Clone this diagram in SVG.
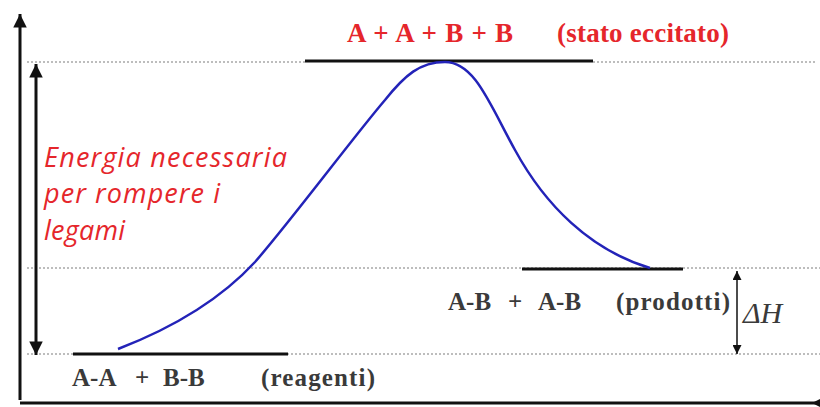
<svg xmlns="http://www.w3.org/2000/svg" width="820" height="407" viewBox="0 0 820 407">
<style>
.dot{stroke:#a8a8a8;stroke-width:1.5;stroke-dasharray:2 2;fill:none}
.lvl{stroke:#111;stroke-width:3;fill:none}
.ax{stroke:#111;stroke-width:3;fill:none}
.red{fill:#e5262b;font-family:"Liberation Serif",serif;font-weight:bold;font-size:27px}
.ita{fill:#e5262b;font-family:"Open Sans","DejaVu Sans",sans-serif;font-style:italic;font-size:27px}
.lab{fill:#3a3a3a;font-family:"Liberation Serif",serif;font-weight:bold;font-size:25px}
.dh{fill:#3a3a3a;font-family:"Liberation Serif",serif;font-style:italic;font-size:30px}
</style>
<defs>
<marker id="ah" viewBox="0 0 10 10" refX="10" refY="5" markerWidth="5" markerHeight="4.5" orient="auto" markerUnits="strokeWidth">
<path d="M0,0 L10,5 L0,10 Z" fill="#111"/>
</marker>
<marker id="ahs" viewBox="0 0 10 10" refX="10" refY="5" markerWidth="6" markerHeight="6" orient="auto" markerUnits="strokeWidth">
<path d="M0,0 L10,5 L0,10 Z" fill="#111"/>
</marker>
</defs>
<rect width="820" height="407" fill="#fff"/>
<g id="guides">
<path class="dot" d="M27,62 H305 M593,62 H815"/>
<path class="dot" d="M27,268 H820"/>
<path class="dot" d="M27,354 H820"/>
</g>
<g id="axes">
<path class="ax" d="M20,400 V14" marker-end="url(#ah)"/>
<path class="ax" d="M20,403 H818"/>
<path d="M820,399 L812,403 L820,407 Z" fill="#111"/>
</g>
<g id="level-excited">
<path class="lvl" d="M305,61 H593"/>
<text class="red" x="347" y="42" textLength="166">A + A + B + B</text>
<text class="red" x="557" y="42" textLength="172">(stato eccitato)</text>
</g>
<g id="level-reagents">
<path class="lvl" d="M73,354 H288"/>
<text class="lab" y="386"><tspan x="72">A-A</tspan><tspan x="135">+</tspan><tspan x="163">B-B</tspan></text>
<text class="lab" x="261" y="386" textLength="114">(reagenti)</text>
</g>
<g id="level-products">
<path class="lvl" d="M522,269 H683"/>
<text class="lab" y="310"><tspan x="448">A-B</tspan><tspan x="508">+</tspan><tspan x="538">A-B</tspan></text>
<text class="lab" x="616" y="310" textLength="114">(prodotti)</text>
</g>
<g id="curve">
<path d="M118,349 C175,327 220,300 255,262 C290,222 355,135 385,100 C405,75 420,62 445,62 C475,62 490,105 515,150 C545,205 590,250 650,268" fill="none" stroke="#2323b8" stroke-width="2.5"/>
</g>
<g id="energy-label">
<text class="ita" x="44" y="167" textLength="243">Energia necessaria</text>
<text class="ita" x="44" y="203" textLength="176">per rompere i</text>
<text class="ita" x="44" y="240" textLength="81">legami</text>
</g>
<g id="connectors">
<path d="M36,208 V64" stroke="#111" stroke-width="3" fill="none" marker-end="url(#ah)"/>
<path d="M36,208 V355" stroke="#111" stroke-width="3" fill="none" marker-end="url(#ah)"/>
<path d="M737,312 V271" stroke="#111" stroke-width="1.5" fill="none" marker-end="url(#ahs)"/>
<path d="M737,312 V354" stroke="#111" stroke-width="1.5" fill="none" marker-end="url(#ahs)"/>
</g>
<g id="delta-h">
<text class="dh" x="743" y="323">ΔH</text>
</g>
</svg>
